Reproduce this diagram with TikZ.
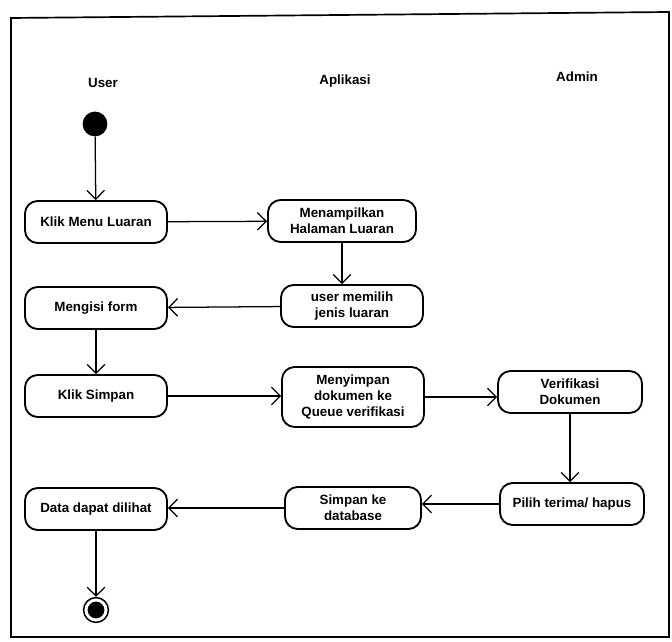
\documentclass[tikz,border=0pt]{standalone}
\usepackage{fontspec}
\setmainfont{Liberation Sans}
\usetikzlibrary{arrows.meta}
\begin{document}
\begin{tikzpicture}[x=0.025cm,y=-0.025cm,
  act/.style={shape=rectangle,rounded corners=9pt,draw=black,line width=1.3pt,minimum width=3.55cm,minimum height=1.05cm,align=center,inner sep=1pt,font=\fontsize{9.5}{11.5}\selectfont\bfseries},
  flow/.style={-{Straight Barb[length=2.2mm,width=4.4mm]},line width=0.9pt},
  lane/.style={font=\fontsize{9.5}{11.5}\selectfont\bfseries}]
\useasboundingbox (0,0) rectangle (672,642);
\draw[line width=1.2pt] (11,18) -- (669,12) -- (669,637) -- (11,637) -- cycle;
\node (user) at (103,83) [lane] {User};
\node (apl) at (345,81) [lane] {Aplikasi};
\node (adm) at (577,77) [lane] {Admin};
\node (start) at (95,124) [shape=circle,fill=black,minimum size=0.62cm,inner sep=0pt] {};
\node (a1) at (96,222) [act] {Klik Menu Luaran};
\node (a2) at (342,221) [act,minimum width=3.7cm] {Menampilkan\\Halaman Luaran};
\node (a3) at (352,306) [act] {user memilih\\jenis luaran};
\node (a4) at (96,308) [act] {Mengisi form};
\node (a5) at (96,396) [act] {Klik Simpan};
\node (a6) at (353,397) [act,minimum height=1.5cm] {Menyimpan\\dokumen ke\\Queue verifikasi};
\node (a7) at (570,392) [act,minimum width=3.6cm] {Verifikasi\\Dokumen};
\node (a8) at (572,504) [act,minimum width=3.6cm] {Pilih terima/ hapus};
\node (a9) at (353,508) [act,minimum width=3.4cm] {Simpan ke\\database};
\node (a10) at (96,509) [act] {Data dapat dilihat};
\node (stop) at (96,610) [shape=circle,draw=black,line width=1.1pt,minimum size=0.62cm,inner sep=0pt] {};
\node (stopin) at (stop) [shape=circle,fill=black,minimum size=0.42cm,inner sep=0pt] {};
\draw[flow] (start) -- (a1);
\draw[flow] (a1) -- (a2);
\draw[flow] (a2.south) -- (a2.south |- a3.north);
\draw[flow] (a3) -- (a4);
\draw[flow] (a4) -- (a5);
\draw[flow] (a5) -- (a5 -| a6.west);
\draw[flow] (a6) -- (a6 -| a7.west);
\draw[flow] (a7.south) -- (a7.south |- a8.north);
\draw[flow] (a8) -- (a8 -| a9.east);
\draw[flow] (a9) -- (a9 -| a10.east);
\draw[flow] (a10) -- (stop);
\end{tikzpicture}
\end{document}
